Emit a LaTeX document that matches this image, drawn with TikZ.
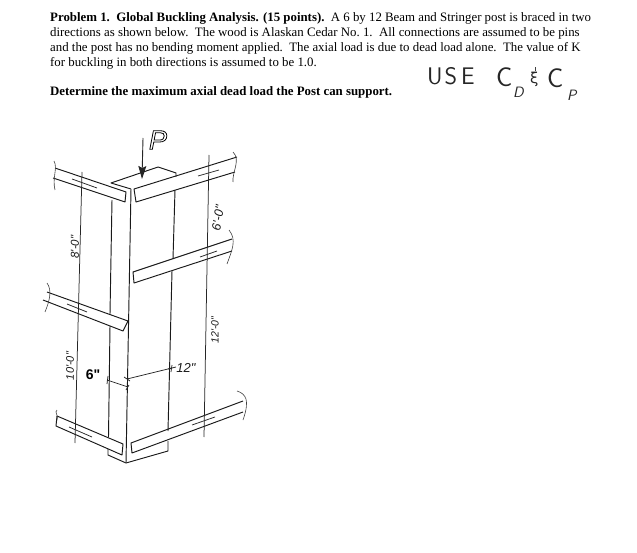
\documentclass[tikz,border=0pt]{standalone}
\usepackage{fontspec}
\usetikzlibrary{arrows.meta}
\setmainfont{Liberation Serif}
\newfontfamily\handfont{Liberation Sans}
\newfontfamily\greekhand{DejaVu Sans}
\tikzset{
  x=1pt,y=-1pt,
  ln/.style={draw=black!90,line width=0.95pt,line join=round},
  dim/.style={draw=black!85,line width=0.75pt},
  brk/.style={draw=black!75,line width=0.6pt},
  para/.style={anchor=base west,inner sep=0pt,font=\fontsize{12.85}{14}\selectfont},
  hand/.style={inner sep=0pt,anchor=base west,text=black!85},
  handbig/.style={hand,font=\sffamily\fontsize{24}{26}\selectfont},
  handc/.style={hand,font=\sffamily\fontsize{27}{29}\selectfont},
  handsmall/.style={hand,font=\sffamily\itshape\fontsize{15}{16}\selectfont},
  dimtext/.style={inner sep=0pt,font=\handfont\itshape\fontsize{11.5}{13}\selectfont,text=black!90}
}
\begin{document}
\begin{tikzpicture}
\useasboundingbox (0,0) rectangle (637,553);
% text
\node[para] (l1) at (50,22) {\textbf{Problem 1.\ \ Global Buckling Analysis. (15 points).}\ \ A 6 by 12 Beam and Stringer post is braced in two};
\node[para] (l2) at (50,37) {directions as shown below.\ \ The wood is Alaskan Cedar No.\ 1.\ \ All connections are assumed to be pins};
\node[para] (l3) at (50,52) {and the post has no bending moment applied.\ \ The axial load is due to dead load alone.\ \ The value of K};
\node[para] (l4) at (50,67) {for buckling in both directions is assumed to be 1.0.};
\node[para] (l5) at (50,96) {\textbf{Determine the maximum axial dead load the Post can support.}};
% handwritten note
\node[handbig] (use) at (427,85) {U\hspace{2pt}S\hspace{4pt}E};
\node[handc] (cd) at (496,87) {C};
\node[handsmall] (d) at (513,97.5) {D};
\node[hand,font=\greekhand\fontsize{15}{16}\selectfont] (and) at (530,84) {ξ};
\draw[brk] (and.north)++(0.5,-5) -- ++(0,4);
\node[handc] (cp) at (547,88) {C};
\node[handsmall] (p) at (567,101) {P};
% post
\draw[ln] (176,177) -- (176,173) -- (158,167) -- (111,183) -- (131,189);
\draw[ln] (131,189) -- (126,463);
\draw[ln] (112,200) -- (110,314);
\draw[ln] (110,326) -- (108.5,437);
\draw[ln] (175,190) -- (173,259);
\draw[ln] (172,271) -- (168,431);
\draw[ln] (108,449) -- (108,455) -- (126,463) -- (168,451) -- (168,441);
% top-left beam
\draw[ln] (55,168) -- (126,192) -- (125,202) -- (53,178);
% top-right beam
\draw[ln] (237,157) -- (134,189) -- (136,202) -- (235,172);
% middle-right beam
\draw[ln] (232,239) -- (133,272) -- (134,283) -- (232,251);
% middle-left beam
\draw[ln] (47,292) -- (128,321) -- (123,331) -- (43,300);
% bottom-left beam
\draw[ln] (57,416) -- (123,444) -- (122,455) -- (56,426) -- (57,416);
% bottom-right beam
\draw[ln] (243,401) -- (131,443) -- (132,453) -- (243,412);
% break marks
\draw[brk] (54,161) .. controls (58,168) and (52,178) .. (55,190);
\draw[brk] (233,152) .. controls (241,160) and (232,172) .. (233,182);
\draw[brk] (229,230) .. controls (237,240) and (232,250) .. (227,264);
\draw[brk] (47,283) .. controls (52,290) and (50,300) .. (45,312);
\draw[brk] (57,410) .. controls (54,412) and (59,416) .. (57,420);
\draw[brk] (237,391) .. controls (246,394) and (250,400) .. (243,420);
% dimension lines
\draw[dim] (82,172) -- (75,443);
\draw[dim] (209,155) -- (204,437);
\draw[dim] (72,179) -- (97,188);
\draw[dim] (67,304) -- (87,312);
\draw[dim] (69,427) -- (92,437);
\draw[dim] (198,176) -- (219,170);
\draw[dim] (200,257) -- (217,251);
\draw[dim] (192,425) -- (215,417);
\draw[dim] (127,379) -- (172,368);
\draw[dim] (107,380) -- (128,387);
\draw[dim] (124,377) -- (130,381);
\draw[dim] (126,390) -- (129,385);
\draw[dim] (168,369) -- (176,367);
\draw[dim] (172,365) -- (171,372);
\draw[dim] (108,376) -- (107,384);
% load
\coordinate (pa) at (143,138);
\coordinate (pb) at (142,179);
\draw[draw=black!85,line width=0.9pt,-{Stealth[length=13pt,width=8pt,inset=2pt]}] (pa) -- (pb);
\node[inner sep=0pt,font=\handfont\itshape\fontsize{27}{29}\selectfont] (pl) at (158,140) {\special{pdf:code 1 Tr 0.8 w}P\special{pdf:code 0 Tr}};
% dimension labels
\node[dimtext,rotate=90] (d8) at (75,247) {8'-0"};
\node[dimtext,rotate=80,font=\handfont\itshape\fontsize{12.5}{13}\selectfont] (d6) at (218,218) {6'-0"};
\node[dimtext,rotate=90,font=\handfont\itshape\fontsize{10.5}{12}\selectfont] (d12) at (215,330) {12'-0"};
\node[dimtext,rotate=90,font=\handfont\itshape\fontsize{11}{12}\selectfont] (d10) at (70,366) {10'-0"};
\node[inner sep=0pt,font=\handfont\bfseries\fontsize{14}{15}\selectfont] (w6) at (93,375) {6"};
\node[dimtext,font=\handfont\itshape\fontsize{13}{14}\selectfont] (w12) at (186,368) {12"};
\end{tikzpicture}
\end{document}
